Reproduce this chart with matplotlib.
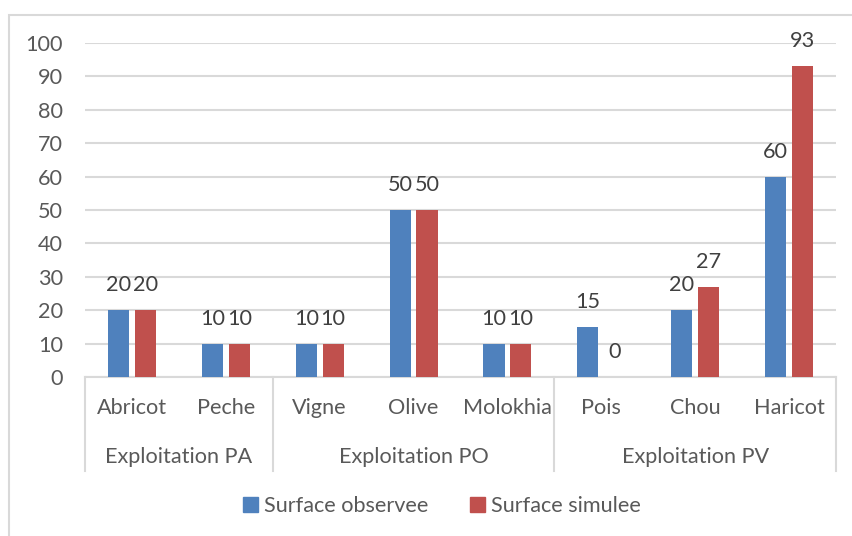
import matplotlib
matplotlib.use("Agg")
import matplotlib.pyplot as plt
from matplotlib.patches import Rectangle
from matplotlib.lines import Line2D
from matplotlib.transforms import blended_transform_factory
import numpy as np

plt.rcParams['font.family'] = ['Lato', 'DejaVu Sans']

crops = ["Abricot", "Peche", "Vigne", "Olive", "Molokhia", "Pois", "Chou", "Haricot"]
groups = ["Exploitation PA", "Exploitation PO", "Exploitation PV"]
group_sizes = [2, 3, 3]
observed = [20, 10, 10, 50, 10, 15, 20, 60]
simulated = [20, 10, 10, 50, 10, 0, 27, 93]
series_names = ["Surface observee", "Surface simulee"]
yticks = list(range(0, 101, 10))

W, H = 853, 536
BLUE = "#4F81BD"
RED = "#C0504D"
GRID = "#D9D9D9"
TXT = "#595959"
LBL = "#404040"
FS = 15.6

fig = plt.figure(figsize=(W / 100, H / 100), dpi=100)
fig.patch.set_facecolor("white")

# outer chart frame (runs off the right and bottom edges)
fig.patches.append(Rectangle((9 / W, -0.05), 1.2, 1 - 15 / H + 0.05,
                             transform=fig.transFigure, fill=False,
                             edgecolor=GRID, linewidth=1.5))

left, right = 85 / W, 836 / W
bottom, top = 1 - 377 / H, 1 - 43 / H
ax = fig.add_axes([left, bottom, right - left, top - bottom])
ax.set_facecolor("none")

x = np.arange(len(crops))
bw = 0.225
off = 0.143
b1 = ax.bar(x - off, observed, bw, color=BLUE, zorder=3)
b2 = ax.bar(x + off, simulated, bw, color=RED, zorder=3)

for bars, vals in ((b1, observed), (b2, simulated)):
    for rect, v in zip(bars, vals):
        ax.annotate(f"{v}", (rect.get_x() + rect.get_width() / 2, v),
                    xytext=(0, 18), textcoords="offset points",
                    ha="center", va="center", fontsize=FS, color=LBL,
                    annotation_clip=False, zorder=4)

ax.set_xlim(-0.5, len(crops) - 0.5)
ax.set_ylim(0, 100)
ax.set_yticks(yticks)
ax.set_yticklabels([str(t) for t in yticks], fontsize=FS, color=TXT)
ax.tick_params(axis="y", length=0, pad=16)
ax.set_xticks([])
ax.yaxis.grid(True, color=GRID, linewidth=1.5, zorder=0)
ax.set_axisbelow(True)
for s in ax.spines.values():
    s.set_visible(False)

# category axis with grouped labels
tr = blended_transform_factory(ax.transData, fig.transFigure)
ax.add_line(Line2D([-0.5, len(crops) - 0.5], [1 - 377 / H] * 2, transform=tr,
                   color=GRID, linewidth=1.5, clip_on=False))
for xi, name in zip(x, crops):
    ax.text(xi, 1 - 408 / H, name, transform=tr, ha="center", va="center",
            fontsize=FS, color=TXT)
start = 0
edges = [-0.5]
for g, n in zip(groups, group_sizes):
    mid = start + (n - 1) / 2
    ax.text(mid, 1 - 457 / H, g, transform=tr, ha="center", va="center",
            fontsize=FS, color=TXT)
    start += n
    edges.append(start - 0.5)
for e in edges:
    ax.add_line(Line2D([e, e], [1 - 377 / H, 1 - 471 / H], transform=tr,
                       color=GRID, linewidth=1.5, clip_on=False))

# legend
handles = [Rectangle((0, 0), 1, 1, color=BLUE), Rectangle((0, 0), 1, 1, color=RED)]
fig.legend(handles, series_names, loc="center", bbox_to_anchor=(442 / W, 1 - 506 / H),
           ncol=2, frameon=False, fontsize=FS, labelcolor=TXT,
           handlelength=0.7, handleheight=0.7, handletextpad=0.3, columnspacing=1.9)

fig.savefig("out.png", dpi=100)
